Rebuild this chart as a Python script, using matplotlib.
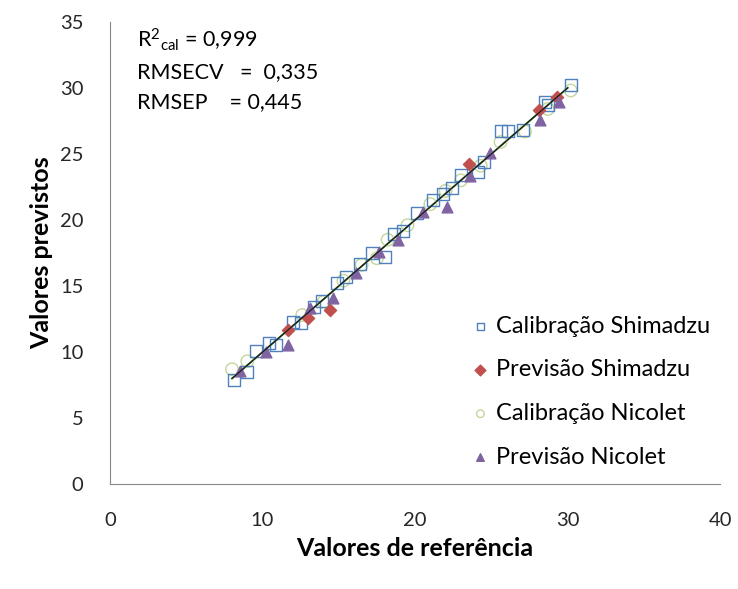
import numpy as np
import matplotlib
matplotlib.use("Agg")
import matplotlib.pyplot as plt

plt.rcParams['font.family'] = ['Lato', 'DejaVu Sans']
plt.rcParams['mathtext.fontset'] = 'custom'
plt.rcParams['mathtext.rm'] = 'Lato'
plt.rcParams['mathtext.it'] = 'Lato:italic'

# reference vs predicted values for each set
cal_shim_x = [8.1, 9.0, 9.6, 10.4, 10.9, 12.0, 12.5, 13.4, 13.9, 14.9, 15.5, 16.4, 17.2, 18.0,
              18.6, 19.2, 20.1, 21.2, 21.8, 22.4, 23.0, 24.1, 24.5, 25.6, 26.1, 27.1, 28.5, 28.7, 30.2]
cal_shim_y = [7.9, 8.5, 10.1, 10.7, 10.5, 12.3, 12.2, 13.4, 13.9, 15.2, 15.7, 16.7, 17.5, 17.2,
              18.9, 19.2, 20.5, 21.5, 22.0, 22.4, 23.4, 23.6, 24.4, 26.7, 26.7, 26.8, 28.9, 28.7, 30.2]

prev_shim_x = [11.7, 13.0, 14.4, 23.5, 28.1, 29.3]
prev_shim_y = [11.7, 12.6, 13.2, 24.2, 28.3, 29.3]

cal_nic_x = [8.0, 9.0, 12.6, 14.0, 15.3, 16.5, 17.5, 18.2, 19.5, 21.0, 22.0, 23.0, 24.3, 25.6, 27.2, 28.7, 30.2]
cal_nic_y = [8.7, 9.3, 12.8, 13.8, 15.4, 16.6, 17.1, 18.5, 19.6, 21.2, 22.2, 23.0, 24.1, 25.9, 26.7, 28.4, 29.8]

prev_nic_x = [8.5, 10.2, 11.7, 13.1, 14.6, 16.1, 17.6, 18.9, 20.5, 22.1, 23.6, 24.9, 28.2, 29.4]
prev_nic_y = [8.6, 10.0, 10.5, 13.3, 14.1, 16.0, 17.6, 18.5, 20.6, 21.0, 23.3, 25.1, 27.6, 28.9]

fit_x = [8.0, 30.0]

fig = plt.figure(figsize=(7.38, 5.89), dpi=100)
ax = fig.add_axes([0.149, 0.178, 0.827, 0.785])

ax.plot(fit_x, fit_x, color='#4c8a3a', lw=1.4, zorder=1)
ax.plot(fit_x, fit_x, color='#1a1a1a', lw=0.9, zorder=5)

ax.scatter(cal_shim_x, cal_shim_y, marker='s', s=75, facecolors='none',
           edgecolors='#4f81bd', linewidths=1.0, label='Calibração Shimadzu', zorder=3)
ax.scatter(prev_shim_x, prev_shim_y, marker='D', s=38, color='#c0504d',
           label='Previsão Shimadzu', zorder=4)
ax.scatter(cal_nic_x, cal_nic_y, marker='o', s=80, facecolors='none',
           edgecolors='#c3d69b', linewidths=1.0, label='Calibração Nicolet', zorder=2)
ax.scatter(prev_nic_x, prev_nic_y, marker='^', s=60, color='#8064a2',
           label='Previsão Nicolet', zorder=4)

ax.set_xlim(0, 40)
ax.set_ylim(0, 35)
ax.set_xticks(np.arange(0, 41, 10))
ax.set_yticks(np.arange(0, 36, 5))
for side in ['top', 'right']:
    ax.spines[side].set_visible(False)
for side in ['left', 'bottom']:
    ax.spines[side].set_color('#868686')
ax.tick_params(axis='both', length=0, labelsize=14.5, colors='#262626')
ax.tick_params(axis='y', pad=19)
ax.tick_params(axis='x', pad=20)

ax.set_xlabel('Valores de referência', fontsize=18, fontweight='bold', labelpad=6)
ax.set_ylabel('Valores previstos', fontsize=18, fontweight='bold', labelpad=5)

ax.text(0.045, 0.946, r'R$^{2}{}_{\mathrm{cal}}$ = 0,999', transform=ax.transAxes,
        fontsize=15.5, va='baseline', ha='left')
ax.text(0.045, 0.879, 'RMSECV   =  0,335', transform=ax.transAxes,
        fontsize=15.5, va='baseline', ha='left')
ax.text(0.045, 0.814, 'RMSEP    = 0,445', transform=ax.transAxes,
        fontsize=15.5, va='baseline', ha='left')

leg = ax.legend(loc='upper left', bbox_to_anchor=(0.576, 0.385), frameon=False,
                fontsize=17, handletextpad=0.24, labelspacing=0.96, handlelength=0.8,
                borderaxespad=0)
for h in leg.legend_handles:
    h.set_sizes([30])

fig.savefig('out.png', dpi=100)
